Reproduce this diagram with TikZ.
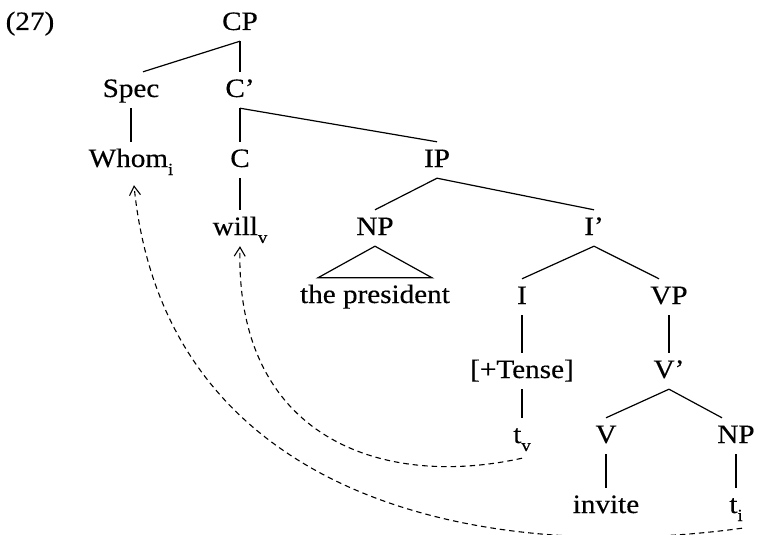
\documentclass[tikz,border=0pt]{standalone}
\usepackage{fontspec}
\setmainfont{Liberation Serif}[FakeStretch=1.1, FakeBold=0.4]
\usetikzlibrary{arrows.meta}
% lowered index letter after a label
\newcommand{\idx}[1]{\raisebox{-8pt}{\fontsize{17}{17}\selectfont #1}}
\begin{document}
\begin{tikzpicture}[x=1pt,y=-1pt,
  lbl/.style={anchor=base, inner xsep=2pt, inner ysep=8pt,
    text height=17pt, text depth=3pt,
    font=\fontsize{26.5}{30}\selectfont},
  branch/.style={line width=1.2pt},
  move/.style={line width=1.1pt, dash pattern=on 5.5pt off 4pt,
    -{Straight Barb[length=9pt,width=11pt]}}]
\useasboundingbox (0,0) rectangle (758,535);

% labels of the tree, placed at their baselines
\node[lbl] (ex)     at (30,30)   {(27)};
\node[lbl] (cp)     at (240,30)  {CP};
\node[lbl] (spec)   at (131,97)  {Spec};
\node[lbl] (cbar)   at (240,97)  {C'};
\node[lbl] (whom)   at (131,167) {Whom\idx{i}};
\node[lbl] (c)      at (240,167) {C};
\node[lbl] (ip)     at (437,167) {IP};
\node[lbl] (will)   at (240,235) {will\idx{v}};
\node[lbl] (np)     at (375,235) {NP};
\node[lbl] (ibar)   at (594,235) {I'};
\node[lbl] (pres)   at (375,303) {the president};
\node[lbl] (i)      at (522,304) {I};
\node[lbl] (vp)     at (669,304) {VP};
\node[lbl] (tense)  at (522,378) {[+Tense]};
\node[lbl] (vbar)   at (669,378) {V'};
\node[lbl] (tv)     at (522,443) {t\idx{v}};
\node[lbl] (v)      at (606,443) {V};
\node[lbl] (obj)    at (736,443) {NP};
\node[lbl] (invite) at (606,513) {invite};
\node[lbl] (ti)     at (736,513) {t\idx{i}};

% branches
\draw[branch] (cp.south) -- ([xshift=12pt]spec.north);
\draw[branch] (cp.south) -- (cbar.north);
\draw[branch] (spec.south) -- (whom.north);
\draw[branch] (cbar.south) -- (c.north);
\draw[branch] (cbar.south) -- (ip.north);
\draw[branch] (c.south) -- (will.north);
\draw[branch] (ip.south) -- (np.north);
\draw[branch] (ip.south) -- (ibar.north);
\draw[branch] (np.south) -- ([xshift=20pt]pres.north west)
  -- ([xshift=-20pt]pres.north east) -- cycle;
\draw[branch] (ibar.south) -- (i.north);
\draw[branch] (ibar.south) -- ([xshift=-10pt]vp.north);
\draw[branch] (i.south) -- (tense.north);
\draw[branch] (vp.south) -- (vbar.north);
\draw[branch] (tense.south) -- (tv.north);
\draw[branch] (vbar.south) -- (v.north);
\draw[branch] (vbar.south) -- ([xshift=-14pt]obj.north);
\draw[branch] (v.south) -- (invite.north);
\draw[branch] (obj.south) -- (ti.north);

% movement arrows
\draw[move] ([yshift=-4pt]tv.south) .. controls +(-140,31) and +(-5,192) .. (will.south);
\draw[move] ([xshift=6pt,yshift=-4pt]ti.south) .. controls +(-262,36) and +(31,314)
  .. ([xshift=3pt,yshift=-7pt]whom.south);
\end{tikzpicture}
\end{document}
